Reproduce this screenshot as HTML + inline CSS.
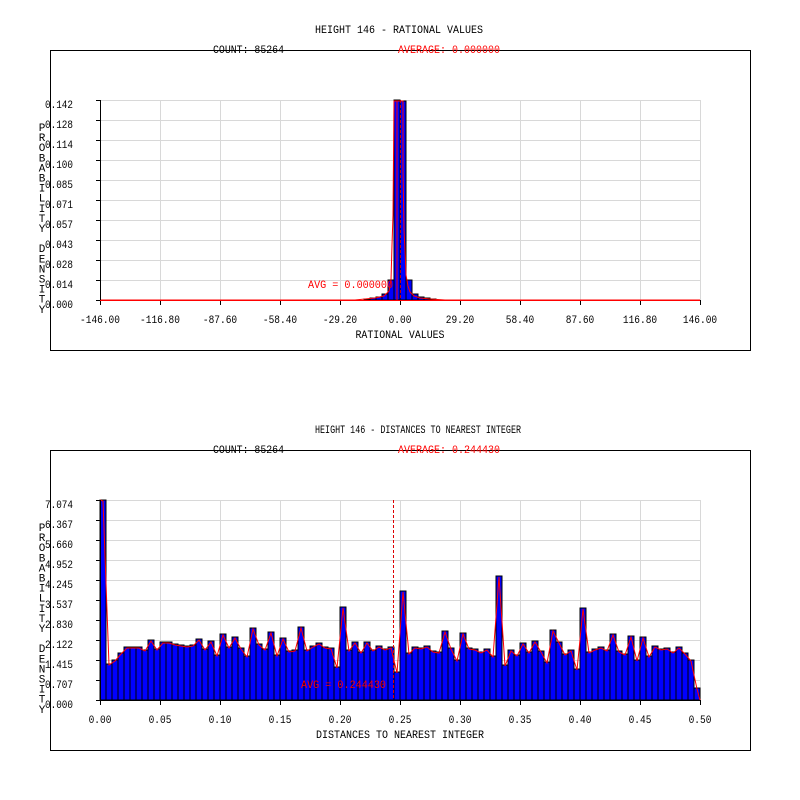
<!DOCTYPE html>
<html><head><meta charset="utf-8"><style>
html,body{margin:0;padding:0;background:#fff;width:800px;height:800px;overflow:hidden}
svg{display:block}
text{font-family:"Liberation Mono",monospace;font-size:11px}
</style></head><body>
<svg id="s" width="800" height="800" xmlns="http://www.w3.org/2000/svg"></svg>
<script>
var s=document.getElementById('s');var h='';
function T(x,y,t,o){o=o||{};h+='<text x="'+x+'" y="'+y+'"'+(o.a?' text-anchor="'+o.a+'"':'')+(o.w?' textLength="'+o.w+'" lengthAdjust="spacingAndGlyphs"':'')+' fill="'+(o.c||'#000')+'">'+t+'</text>';}
function chart(oy,title,tw,avg,ylab,xlab,xtitle,xtw){
 h+='<rect x="50.5" y="'+(oy+50.5)+'" width="700" height="300" fill="none" stroke="#000"/>';
 T(315,oy+33,title,{w:tw});
 T(213,oy+53,'COUNT: 85264',{w:71});
 T(398,oy+53,'AVERAGE: '+avg,{w:102,c:'#f00'});
 for(var i=0;i<=10;i++){var y=oy+100+i*20;h+='<line x1="100" x2="700" y1="'+(y+.5)+'" y2="'+(y+.5)+'" stroke="#d8d8d8"/>';
  h+='<line x1="96" x2="100" y1="'+(y+.5)+'" y2="'+(y+.5)+'" stroke="#000"/>';
  T(45,y+8,ylab[i],{w:28});}
 for(var i=1;i<=10;i++){var x=100+i*60;h+='<line x1="'+(x+.5)+'" x2="'+(x+.5)+'" y1="'+(oy+100)+'" y2="'+(oy+300)+'" stroke="#d8d8d8"/>';}
 var lab='PROBABILITY DENSITY';
 for(var i=0;i<lab.length;i++){if(lab[i]!=' ')T(42,oy+123+i*10.1+8,lab[i],{a:'middle'});}
 for(var i=0;i<=10;i++){var x=100+i*60;var w=xlab[i].length*5.7;T(x-w/2,oy+323,xlab[i],{w:w});}
 T(400-xtw/2,oy+338,xtitle,{w:xtw});
}
chart(0,'HEIGHT 146 - RATIONAL VALUES',168,'0.000000',
 ['0.142','0.128','0.114','0.100','0.085','0.071','0.057','0.043','0.028','0.014','0.000'],
 ['-146.00','-116.80','-87.60','-58.40','-29.20','0.00','29.20','58.40','87.60','116.80','146.00'],'RATIONAL VALUES',89);
chart(400,'HEIGHT 146 - DISTANCES TO NEAREST INTEGER',206,'0.244430',
 ['7.074','6.367','5.660','4.952','4.245','3.537','2.830','2.122','1.415','0.707','0.000'],
 ['0.00','0.05','0.10','0.15','0.20','0.25','0.30','0.35','0.40','0.45','0.50'],'DISTANCES TO NEAREST INTEGER',168);
var tb=[[364,299],[370,298],[376,297],[382,294],[388,280],[394,100],[400,101],[406,280],[412,294],[418,297],[424,298],[430,299]];
tb.forEach(function(b){h+='<rect x="'+b[0]+'" y="'+b[1]+'" width="6" height="'+(300-b[1])+'" fill="#00f" stroke="#000" stroke-width="1"/>';});
h+='<polyline fill="none" stroke="#f00" stroke-width="1" points="100,300 355,300 365,299 375,298 384,296 389,291 391,280 392,245 393,215 394,101 397,101 397,300 397,101 403,101 403,170 404,230 405,250 406,275 408,286 410,292 414,296 420,298 430,299 445,300 700,300"/>';
h+='<line x1="400.5" x2="400.5" y1="100" y2="300" stroke="#c00" stroke-dasharray="3,2"/>';
T(308,288,'AVG = 0.000000',{w:85,c:'#f00'});
var z=[30,522,510,490,471,471,471,480,451,477,457,457,462,465,468,465,448,477,453,495,432,471,441,474,498,414,462,477,426,495,444,483,480,411,480,468,459,471,474,531,351,480,457,486,457,480,468,477,471,546,303,489,471,474,468,483,486,423,474,510,429,474,477,486,477,498,258,525,480,495,459,486,453,483,516,420,456,492,480,537,354,486,477,471,480,432,483,492,438,510,441,498,468,477,474,486,471,489,510,594];
var pts=[];
for(var i=0;i<100;i++){var y=Math.round(490+z[i]/3);var x=100+i*6;
 h+='<rect x="'+x+'" y="'+y+'" width="6" height="'+(700-y)+'" fill="#00f" stroke="#000" stroke-width="1"/>';
 pts.push((x+3)+','+(y+1));}
pts.unshift('100,500');pts.push('700,700');
h+='<polyline fill="none" stroke="#f00" stroke-width="1" points="'+pts.join(' ')+'"/>';
h+='<line x1="393.5" x2="393.5" y1="500" y2="700" stroke="#d00" stroke-dasharray="3,2"/>';
T(301,688,'AVG = 0.244430',{w:85,c:'#f00'});
[0,400].forEach(function(oy){
 h+='<line x1="100.5" x2="100.5" y1="'+(oy+100)+'" y2="'+(oy+300)+'" stroke="#000"/>';
 h+='<line x1="100" x2="700" y1="'+(oy+300.5)+'" y2="'+(oy+300.5)+'" stroke="#000"/>';
 for(var i=0;i<=10;i++){var x=100+i*60;h+='<line x1="'+(x+.5)+'" x2="'+(x+.5)+'" y1="'+(oy+300)+'" y2="'+(oy+305)+'" stroke="#000"/>';}
});
h+='<line x1="100" x2="700" y1="300.5" y2="300.5" stroke="#f00"/>';
s.innerHTML=h;
</script>
</body></html>
